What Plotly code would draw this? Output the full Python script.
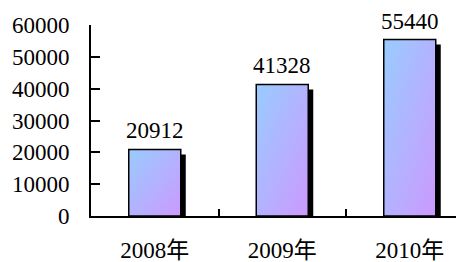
import plotly.graph_objects as go

categories = ["2008年", "2009年", "2010年"]
values = [20912, 41328, 55440]
y_ticks = [0, 10000, 20000, 30000, 40000, 50000, 60000]
y_tick_labels = ["0", "10000", "20000", "30000", "40000", "50000", "60000"]

# page has an 8px body margin, so the figure is drawn 8px smaller
W, H = 456, 254
ML, MR, MT, MB = 83, 0, 17, 46
plot_w = W - ML - MR
plot_h = H - MT - MB
cat_px = 127.5
x_range = [-0.5, -0.5 + plot_w / cat_px]
y_range = [0, 60000]
dx_px = (x_range[1] - x_range[0]) / plot_w
dy_px = (y_range[1] - y_range[0]) / plot_h
BAR_W = 52 * dx_px
SH = 5  # shadow offset in px

FONT = "Liberation Serif, Noto Sans CJK SC"
FS = 23
BLUE = "#99CCFF"
PURPLE = "#CC99FF"

fig = go.Figure()

# shadows
fig.add_trace(go.Bar(
    x=[i + SH * dx_px for i in range(len(values))],
    y=[v - SH * dy_px for v in values],
    width=BAR_W,
    marker=dict(color="black", line=dict(width=0)),
    hoverinfo="skip", showlegend=False,
))

# bars with diagonal gradient (horizontal + half-transparent vertical)
for i, v in enumerate(values):
    xs = [i - BAR_W / 2, i + BAR_W / 2, i + BAR_W / 2, i - BAR_W / 2, i - BAR_W / 2]
    ys = [0, 0, v, v, 0]
    fig.add_trace(go.Scatter(
        x=xs, y=ys, fill="toself", mode="lines",
        line=dict(width=0, color="rgba(0,0,0,0)"),
        fillgradient=dict(type="horizontal", colorscale=[[0, BLUE], [1, PURPLE]]),
        hoverinfo="skip", showlegend=False,
    ))
    fig.add_trace(go.Scatter(
        x=xs, y=ys, fill="toself", mode="lines",
        line=dict(width=1.5, color="black"),
        fillgradient=dict(type="vertical",
                          colorscale=[[0, "rgba(204,153,255,0.5)"], [1, "rgba(153,204,255,0.5)"]]),
        hoverinfo="skip", showlegend=False,
    ))

for i, v in enumerate(values):
    fig.add_annotation(x=i, y=v, text=str(v), showarrow=False, yanchor="bottom",
                       yshift=5, borderpad=0, font=dict(family=FONT, size=FS, color="black"))

fig.update_layout(
    width=W, height=H,
    margin=dict(l=ML, r=MR, t=MT, b=MB, pad=0),
    paper_bgcolor="white", plot_bgcolor="white",
    showlegend=False,
    xaxis=dict(
        range=x_range, showgrid=False, zeroline=False, automargin=False,
        showline=True, linecolor="black", linewidth=2,
        tickmode="array", tickvals=list(range(len(categories))), ticktext=categories,
        ticks="", ticklabelstandoff=12,
        tickfont=dict(family=FONT, size=FS, color="black"),
        minor=dict(tickmode="array", tickvals=[0.5, 1.5], ticks="inside",
                   ticklen=7, tickwidth=2, tickcolor="black", showgrid=False),
    ),
    yaxis=dict(
        range=y_range, showgrid=False, zeroline=False, automargin=False,
        showline=True, linecolor="black", linewidth=2,
        tickmode="array", tickvals=y_ticks, ticktext=y_tick_labels,
        ticks="inside", ticklen=9, tickwidth=2, tickcolor="black",
        ticklabelstandoff=15,
        tickfont=dict(family=FONT, size=FS, color="black"),
    ),
)

fig.write_html("out.html")
